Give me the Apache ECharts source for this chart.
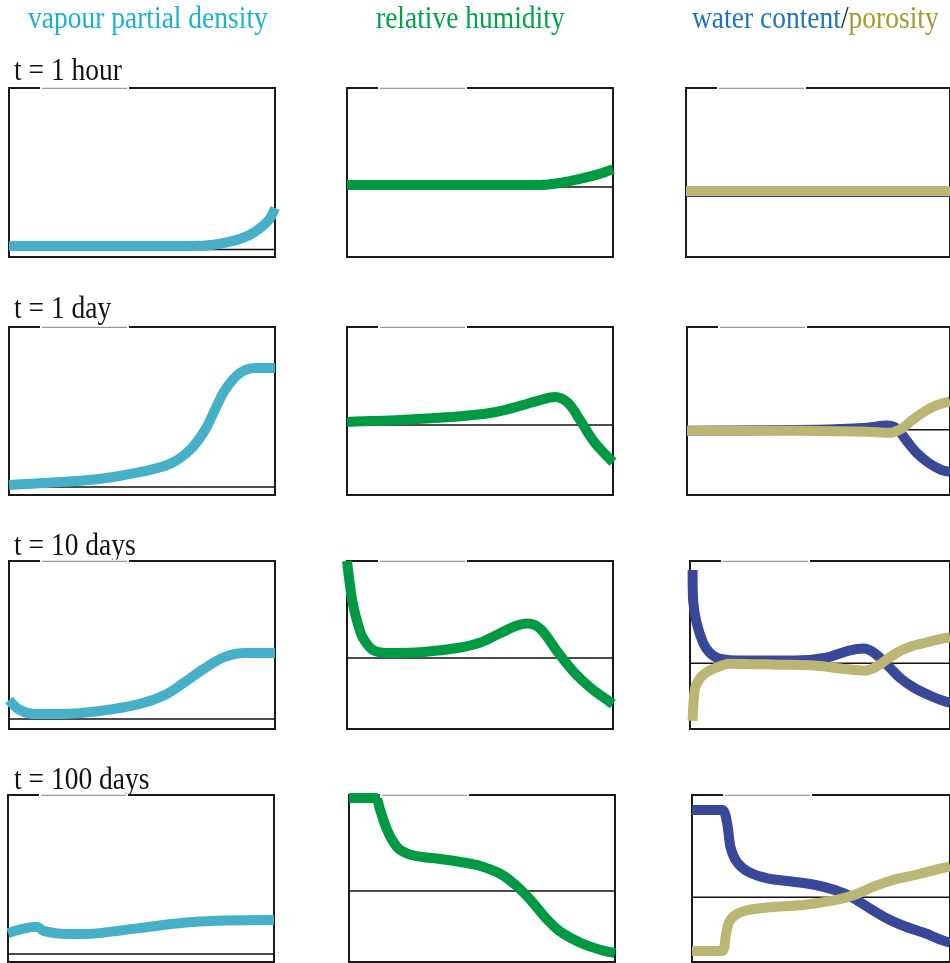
<!DOCTYPE html>
<html>
<head>
<meta charset="utf-8">
<script src="https://cdn.jsdelivr.net/npm/echarts@6/dist/echarts.min.js"></script>
<style>html,body{margin:0;padding:0;background:#fff;}#c{width:950px;height:963px;}</style>
</head>
<body>
<div id="c"></div>
<script>
// Column titles and row labels
const columnTitles = ['vapour partial density', 'relative humidity', 'water content', 'porosity'];
const rowLabels = ['t = 1 hour', 't = 1 day', 't = 10 days', 't = 100 days'];

// Normalised profiles: [position (0-100 across sample), value (0-100 of panel range)]
// t = 1 hour
const vapour1h = [[0,6.5],[34,6.5],[68,6.5],[77,7.3],[85,9.8],[90.6,13.2],[95,17.8],[98,22.5],[100,29]];
const rh1h = [[0,42.6],[72.6,42.6],[80,43.8],[87.6,46.2],[95,49.2],[100,52]];
const water1h = [[0,38.5],[100,38.5]];
const porosity1h = [[0,39],[100,39]];
const ref1h = [4.5, 41.4, 39];

// t = 1 day
const vapour1d = [[0,6],[19.5,7.7],[34.6,9.7],[49.6,13.7],[60.5,18.5],[68,26.8],[73.7,38.7],[77.4,50.6],[81.2,62.5],[86.8,72.6],[92.5,75.6],[100,75.6]];
const rh1d = [[0,43.5],[19.9,44.6],[38.7,46.4],[53.8,48.8],[65,53],[72.6,56.5],[78.2,58.3],[83.1,54.8],[87.6,44.6],[93.2,31],[100,19.6]];
const water1d = [[0,38.3],[49.8,38.9],[68.5,40.1],[76,41.3],[79.8,39.5],[83.5,32.3],[87.3,25.1],[91.8,19.2],[96.6,15],[100,13.8]];
const porosity1d = [[0,38.3],[42.3,38.3],[68.5,37.7],[77.2,37.1],[81.6,39.5],[85.4,44.3],[90.3,49.7],[94.8,53.3],[100,55.7]];
const ref1d = [4.8, 41.7, 38.9];

// t = 10 days
const vapour10d = [[0,17.3],[4.1,11.3],[9.8,8.9],[19.2,8.9],[34.2,10.7],[49.2,14.9],[58.6,20.2],[66.2,28],[73.7,36.3],[81.2,42.9],[88.7,45.2],[100,45.2]];
const rh10d = [[0,100],[1.1,85.7],[2.3,73.8],[4.2,61.9],[6,54.2],[9.8,47],[16.2,45.2],[28.7,45.8],[41.5,48.2],[50.2,51.5],[57.7,57.1],[63.4,61.3],[67.9,62.8],[72.8,59.5],[79.2,45.8],[85.3,33.9],[91.7,24.4],[100,14.9]];
const water10d = [[1,94.6],[1.2,76.6],[2.5,63.5],[5,51.5],[7.5,45.5],[11.2,41.9],[21.2,40.7],[40,40.7],[52.4,42.5],[61.2,46.7],[66.8,47.9],[71.2,44.9],[76.1,37.7],[81.2,29.9],[86.1,24.6],[92.4,19.8],[97.4,16.8],[100,15.6]];
const porosity10d = [[1,4.8],[1.9,24],[3.7,29.9],[6.2,33.5],[10,36.5],[15,38.9],[33.7,38.3],[48.7,37.7],[58.7,35.9],[67.4,34.7],[72.4,37.7],[76.1,41.9],[81.2,46.7],[86.1,49.7],[92.4,52.1],[97.4,53.9],[100,54.5]];
const ref10d = [6, 42.3, 39.1];

// t = 100 days
const vapour100d = [[0,17.4],[10.8,21.1],[13.3,18.7],[22.1,16.8],[29.6,16.8],[40.9,18.6],[53.4,21.1],[65.9,23.5],[78.5,24.7],[100,25.1]];
const rh100d = [[0,98.2],[9.8,98.2],[11.7,91],[13.6,82],[16.2,73.1],[19.2,67.1],[24.9,63.5],[34.3,61.7],[41.9,59.9],[49.4,57.5],[57,52.7],[62.6,46.1],[68.3,37.1],[74,26.3],[79.6,18],[87.2,11.4],[94.7,7.2],[100,5.4]];
const water100d = [[0,91],[11.7,91],[13.6,83.2],[14.9,69],[17.3,60.1],[21.7,54.1],[29.2,50.1],[39.2,48.1],[47.9,46.1],[55.4,43.1],[61.7,39.1],[67.9,33.1],[75.4,26.2],[82.9,21.1],[90.4,17.2],[96.6,13.2],[100,11.5]];
const porosity100d = [[0,6.6],[11.7,6.6],[13,15.1],[14.2,23.2],[16.7,28.1],[21.7,31.1],[30.5,32.8],[43,34.1],[55.4,37.1],[62.9,40.1],[70.4,45.1],[77.9,49.1],[86.6,52.1],[96.6,56.1],[100,57.3]];
const ref100d = [4.8, 42.5, 38.7];

const C_VAP = '#45b0c7', C_RH = '#009a44', C_WAT = '#3a489a', C_POR = '#bbb673';

// smoothing per line (about 1/3 gives Catmull-Rom-like curves)
const panels = [
  [{lines:[[vapour1h,C_VAP,0.33]]},{lines:[[rh1h,C_RH,0.33]]},{lines:[[water1h,C_WAT,0],[porosity1h,C_POR,0]]}],
  [{lines:[[vapour1d,C_VAP,0.33]]},{lines:[[rh1d,C_RH,0.33]]},{lines:[[water1d,C_WAT,0.33],[porosity1d,C_POR,0.33]]}],
  [{lines:[[vapour10d,C_VAP,0.33]]},{lines:[[rh10d,C_RH,0.33]]},{lines:[[water10d,C_WAT,0.3],[porosity10d,C_POR,0.3]]}],
  [{lines:[[vapour100d,C_VAP,0.3]]},{lines:[[rh100d,C_RH,0.3]]},{lines:[[water100d,C_WAT,0.28],[porosity100d,C_POR,0.28]]}]
];
const refs = [ref1h, ref1d, ref10d, ref100d];

// layout
const lefts = [[9,347,686],[9,347,687],[9,347,690],[8,349,692]];
const tops = [88,327,561,795];
const heights = [169,168,168,167];
const W = 266;

const grids = [], xAxes = [], yAxes = [], series = [], graphics = [];
let gi = 0;
for (let r = 0; r < 4; r++) {
  for (let c = 0; c < 3; c++) {
    grids.push({left: lefts[r][c], top: tops[r], width: W, height: heights[r], show: true,
      borderColor: '#1a1a1a', borderWidth: 2, backgroundColor: 'transparent', containLabel: false});
    xAxes.push({type:'value', gridIndex: gi, min:0, max:100, show:false});
    yAxes.push({type:'value', gridIndex: gi, min:0, max:100, show:false});
    series.push({type:'line', xAxisIndex: gi, yAxisIndex: gi, data: [[0, refs[r][c]],[100, refs[r][c]]],
      symbol:'none', lineStyle:{color:'#111', width:1.5}, z: 2, silent: true});
    panels[r][c].lines.forEach((l, k) => {
      series.push({type:'line', xAxisIndex: gi, yAxisIndex: gi, data: l[0], smooth: l[2],
        symbol:'none', lineStyle:{color: l[1], width: 10, cap:'butt', join:'round'}, z: 3 + k, silent: true, clip: true});
    });
    // tiny header strip over the top border
    graphics.push({type:'rect', shape:{x: lefts[r][c] + 31, y: tops[r] - 1.5, width: 89, height: 4}, style:{fill:'#fff'}, z: 50});
    graphics.push({type:'rect', shape:{x: lefts[r][c] + 33, y: tops[r] - 0.3, width: 85, height: 1.3}, style:{fill:'#999'}, z: 51});
    gi++;
  }
}

const titleFont = '"Liberation Serif", "Times New Roman", serif';
const FS = '27.5px ';
const SY = 1.12;
graphics.push({type:'text', x: 28, y: 4, scaleY: SY, style:{text: columnTitles[0], fill:'#1ab0d6', font: FS + titleFont, textVerticalAlign:'top'}});
graphics.push({type:'text', x: 376, y: 4, scaleY: SY, style:{text: columnTitles[1], fill:'#00a24a', font: FS + titleFont, textVerticalAlign:'top'}});
graphics.push({type:'text', x: 692, y: 4, scaleY: SY, style:{
  text: '{a|' + columnTitles[2] + '}{b|/}{c|' + columnTitles[3] + '}',
  font: FS + titleFont, textVerticalAlign:'top',
  rich: {a:{fill:'#1f72c0', font:FS + titleFont}, b:{fill:'#222', font:FS + titleFont}, c:{fill:'#a39a2e', font:FS + titleFont}}
}});
const rowLabelY = [56, 294, 531, 765];
rowLabels.forEach((t, i) => {
  graphics.push({type:'text', x: 14, y: rowLabelY[i], scaleY: SY, style:{text: t, fill:'#111', font: FS + titleFont, textVerticalAlign:'top'}});
});

const chart = echarts.init(document.getElementById('c'), null, {renderer:'canvas', width:950, height:963});
chart.setOption({
  animation: false,
  grid: grids, xAxis: xAxes, yAxis: yAxes, series: series, graphic: graphics
});
</script>
</body>
</html>
